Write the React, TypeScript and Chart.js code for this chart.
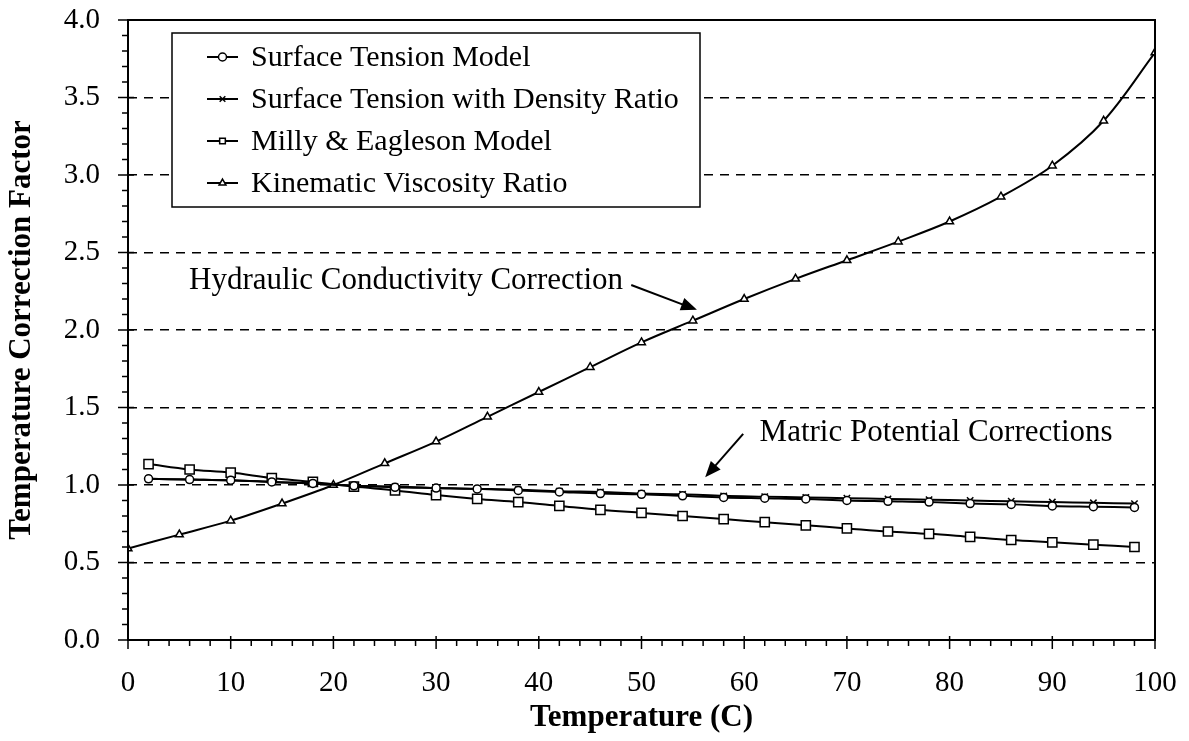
import React, { useEffect, useRef } from 'react';
import { Chart, registerables } from 'chart.js';
import { drawPoint } from 'chart.js/helpers';

Chart.register(...registerables);

// ---- Data ----
const kvTemps = [0, 5, 10, 15, 20, 25, 30, 35, 40, 45, 50, 55, 60, 65, 70, 75, 80, 85, 90, 95, 100];
const kvRatio = [0.59, 0.68, 0.77, 0.88, 1.0, 1.14, 1.28, 1.44, 1.6, 1.76, 1.92, 2.06, 2.2, 2.33, 2.45, 2.57, 2.7, 2.86, 3.06, 3.35, 3.79];

const stTemps = [2, 6, 10, 14, 18, 22, 26, 30, 34, 38, 42, 46, 50, 54, 58, 62, 66, 70, 74, 78, 82, 86, 90, 94, 98];
const stModel = [1.04, 1.035, 1.03, 1.02, 1.01, 0.995, 0.985, 0.98, 0.975, 0.965, 0.955, 0.945, 0.94, 0.93, 0.92, 0.915, 0.91, 0.9, 0.895, 0.89, 0.88, 0.875, 0.865, 0.86, 0.855];
const stDensity = [1.04, 1.035, 1.03, 1.02, 1.01, 0.995, 0.99, 0.98, 0.975, 0.97, 0.96, 0.955, 0.945, 0.94, 0.93, 0.925, 0.92, 0.915, 0.91, 0.905, 0.9, 0.895, 0.89, 0.885, 0.88];
const millyEagleson = [1.135, 1.1, 1.08, 1.045, 1.02, 0.99, 0.965, 0.935, 0.91, 0.89, 0.865, 0.84, 0.82, 0.8, 0.78, 0.76, 0.74, 0.72, 0.7, 0.685, 0.665, 0.645, 0.63, 0.615, 0.6];

const seriesLabels = [
  'Surface Tension Model',
  'Surface Tension with Density Ratio',
  'Milly & Eagleson Model',
  'Kinematic Viscosity Ratio',
];

const xTitle = 'Temperature (C)';
const yTitle = 'Temperature Correction Factor';
const hydraulicLabel = 'Hydraulic Conductivity Correction';
const matricLabel = 'Matric Potential Corrections';

// annotation anchors in data coordinates
const hydraulicNote = { textX: 48.2, textY: 2.32, fromX: 49.0, fromY: 2.29, toX: 55.4, toY: 2.13 };
const matricNote = { textX: 61.5, textY: 1.335, fromX: 59.9, fromY: 1.33, toX: 56.2, toY: 1.05 };

const SERIF = '"Liberation Serif", "Times New Roman", serif';

function pts(xs: number[], ys: number[]) {
  return xs.map((x, i) => ({ x, y: ys[i] }));
}

function drawArrow(ctx: CanvasRenderingContext2D, x1: number, y1: number, x2: number, y2: number) {
  const ang = Math.atan2(y2 - y1, x2 - x1);
  const len = 16;
  const half = 6.5;
  ctx.beginPath();
  ctx.moveTo(x1, y1);
  ctx.lineTo(x2 - Math.cos(ang) * len * 0.8, y2 - Math.sin(ang) * len * 0.8);
  ctx.stroke();
  ctx.beginPath();
  ctx.moveTo(x2, y2);
  ctx.lineTo(x2 - Math.cos(ang) * len - Math.sin(ang) * half, y2 - Math.sin(ang) * len + Math.cos(ang) * half);
  ctx.lineTo(x2 - Math.cos(ang) * len + Math.sin(ang) * half, y2 - Math.sin(ang) * len - Math.cos(ang) * half);
  ctx.closePath();
  ctx.fill();
}

const framePlugin = {
  id: 'frame',
  afterDatasetsDraw(chart: any) {
    const { ctx, chartArea: a } = chart;
    const xs = chart.scales.x;
    const ys = chart.scales.y;
    ctx.save();
    ctx.setLineDash([]);
    ctx.strokeStyle = '#000';
    ctx.fillStyle = '#000';
    // frame
    ctx.lineWidth = 2;
    ctx.beginPath();
    ctx.moveTo(a.left, a.top);
    ctx.lineTo(a.right, a.top);
    ctx.lineTo(a.right, a.bottom);
    ctx.lineTo(a.left, a.bottom);
    ctx.closePath();
    ctx.stroke();
    // y ticks
    ctx.lineWidth = 1.5;
    for (let i = 0; i <= 40; i++) {
      const py = ys.getPixelForValue(i / 10);
      const major = i % 5 === 0;
      ctx.beginPath();
      ctx.moveTo(a.left - (major ? 10 : 6), py);
      ctx.lineTo(a.left + (major ? 6 : 0), py);
      ctx.stroke();
    }
    // x ticks
    for (let i = 0; i <= 50; i++) {
      const v = i * 2;
      const px = xs.getPixelForValue(v);
      const major = v % 10 === 0;
      ctx.beginPath();
      ctx.moveTo(px, a.bottom - (major ? 4 : 0));
      ctx.lineTo(px, a.bottom + (major ? 9 : 6));
      ctx.stroke();
    }

    // legend
    const lx = 172, ly = 33, lw = 528, lh = 174;
    ctx.fillStyle = '#fff';
    ctx.fillRect(lx, ly, lw, lh);
    ctx.strokeStyle = '#000';
    ctx.lineWidth = 1.5;
    ctx.strokeRect(lx, ly, lw, lh);
    ctx.textBaseline = 'middle';
    ctx.textAlign = 'left';
    chart.data.datasets.forEach((ds: any, i: number) => {
      const cy = ly + 24 + i * 42;
      ctx.strokeStyle = '#000';
      ctx.lineWidth = 2;
      ctx.beginPath();
      ctx.moveTo(207, cy);
      ctx.lineTo(238, cy);
      ctx.stroke();
      ctx.fillStyle = '#fff';
      ctx.lineWidth = 1.5;
      drawPoint(ctx, {
        pointStyle: ds.pointStyle,
        radius: Math.min(ds.pointRadius, 4),
        borderWidth: 1.5,
        rotation: 0,
      } as any, 222.5, cy);
      ctx.fillStyle = '#000';
      ctx.font = `30px ${SERIF}`;
      ctx.fillText(ds.label, 251, cy + 1);
    });

    // annotations
    ctx.font = `31px ${SERIF}`;
    ctx.fillStyle = '#000';
    ctx.strokeStyle = '#000';
    ctx.lineWidth = 2;
    ctx.textBaseline = 'middle';
    ctx.textAlign = 'right';
    ctx.fillText(hydraulicLabel, xs.getPixelForValue(hydraulicNote.textX), ys.getPixelForValue(hydraulicNote.textY));
    drawArrow(ctx,
      xs.getPixelForValue(hydraulicNote.fromX), ys.getPixelForValue(hydraulicNote.fromY),
      xs.getPixelForValue(hydraulicNote.toX), ys.getPixelForValue(hydraulicNote.toY));
    ctx.textAlign = 'left';
    ctx.fillText(matricLabel, xs.getPixelForValue(matricNote.textX), ys.getPixelForValue(matricNote.textY));
    drawArrow(ctx,
      xs.getPixelForValue(matricNote.fromX), ys.getPixelForValue(matricNote.fromY),
      xs.getPixelForValue(matricNote.toX), ys.getPixelForValue(matricNote.toY));
    ctx.restore();
  },
};

export default function App() {
  const ref = useRef<HTMLCanvasElement | null>(null);
  useEffect(() => {
    if (!ref.current) return;
    const common = {
      borderColor: '#000',
      pointBorderColor: '#000',
      pointBackgroundColor: '#fff',
      borderWidth: 2,
      pointBorderWidth: 1.5,
      tension: 0.35,
      fill: false,
    };
    const chart = new Chart(ref.current, {
      type: 'line',
      data: {
        datasets: [
          { ...common, label: seriesLabels[0], data: pts(stTemps, stModel), pointStyle: 'circle', pointRadius: 4 },
          { ...common, label: seriesLabels[1], data: pts(stTemps, stDensity), pointStyle: 'crossRot', pointRadius: 4.5 },
          { ...common, label: seriesLabels[2], data: pts(stTemps, millyEagleson), pointStyle: 'rect', pointRadius: 6.5 },
          { ...common, label: seriesLabels[3], data: pts(kvTemps, kvRatio), pointStyle: 'triangle', pointRadius: 4.5 },
        ],
      },
      options: {
        animation: false,
        responsive: false,
        devicePixelRatio: 1,
        layout: { padding: { left: 0, right: 34, top: 20, bottom: 0 } },
        plugins: { legend: { display: false }, tooltip: { enabled: false } },
        scales: {
          x: {
            type: 'linear',
            min: 0,
            max: 100,
            ticks: {
              stepSize: 10,
              color: '#000',
              font: { family: SERIF, size: 29 },
              padding: 26,
              maxRotation: 0,
            },
            grid: { display: false, drawTicks: false },
            border: { display: false },
            title: {
              display: true,
              text: xTitle,
              color: '#000',
              font: { family: SERIF, size: 31, weight: 'bold' },
              padding: { top: 0, bottom: 4 },
            },
            afterFit: (s: any) => { s.height = 101; s.paddingLeft = 0; s.paddingRight = 0; },
          },
          y: {
            type: 'linear',
            min: 0,
            max: 4,
            ticks: {
              stepSize: 0.5,
              color: '#000',
              font: { family: SERIF, size: 29 },
              padding: 28,
              callback: (v: any) => Number(v).toFixed(1),
            },
            grid: {
              drawTicks: false,
              lineWidth: 1.5,
              color: (c: any) => (c.tick && c.tick.value > 0 && c.tick.value < 4 ? '#000' : 'rgba(0,0,0,0)'),
            },
            border: { display: false, dash: [9, 7] },
            title: {
              display: true,
              text: yTitle,
              color: '#000',
              font: { family: SERIF, size: 31, weight: 'bold' },
              padding: { top: 3, bottom: 0 },
            },
            afterFit: (s: any) => { s.width = 128; s.paddingTop = 0; s.paddingBottom = 0; },
          },
        },
      } as any,
      plugins: [framePlugin],
    });
    return () => chart.destroy();
  }, []);
  return (
    <div style={{ position: 'fixed', left: 0, top: 0, width: 1189, height: 741, background: '#fff' }}>
      <canvas ref={ref} width={1189} height={741} style={{ width: 1189, height: 741, display: 'block' }} />
    </div>
  );
}
